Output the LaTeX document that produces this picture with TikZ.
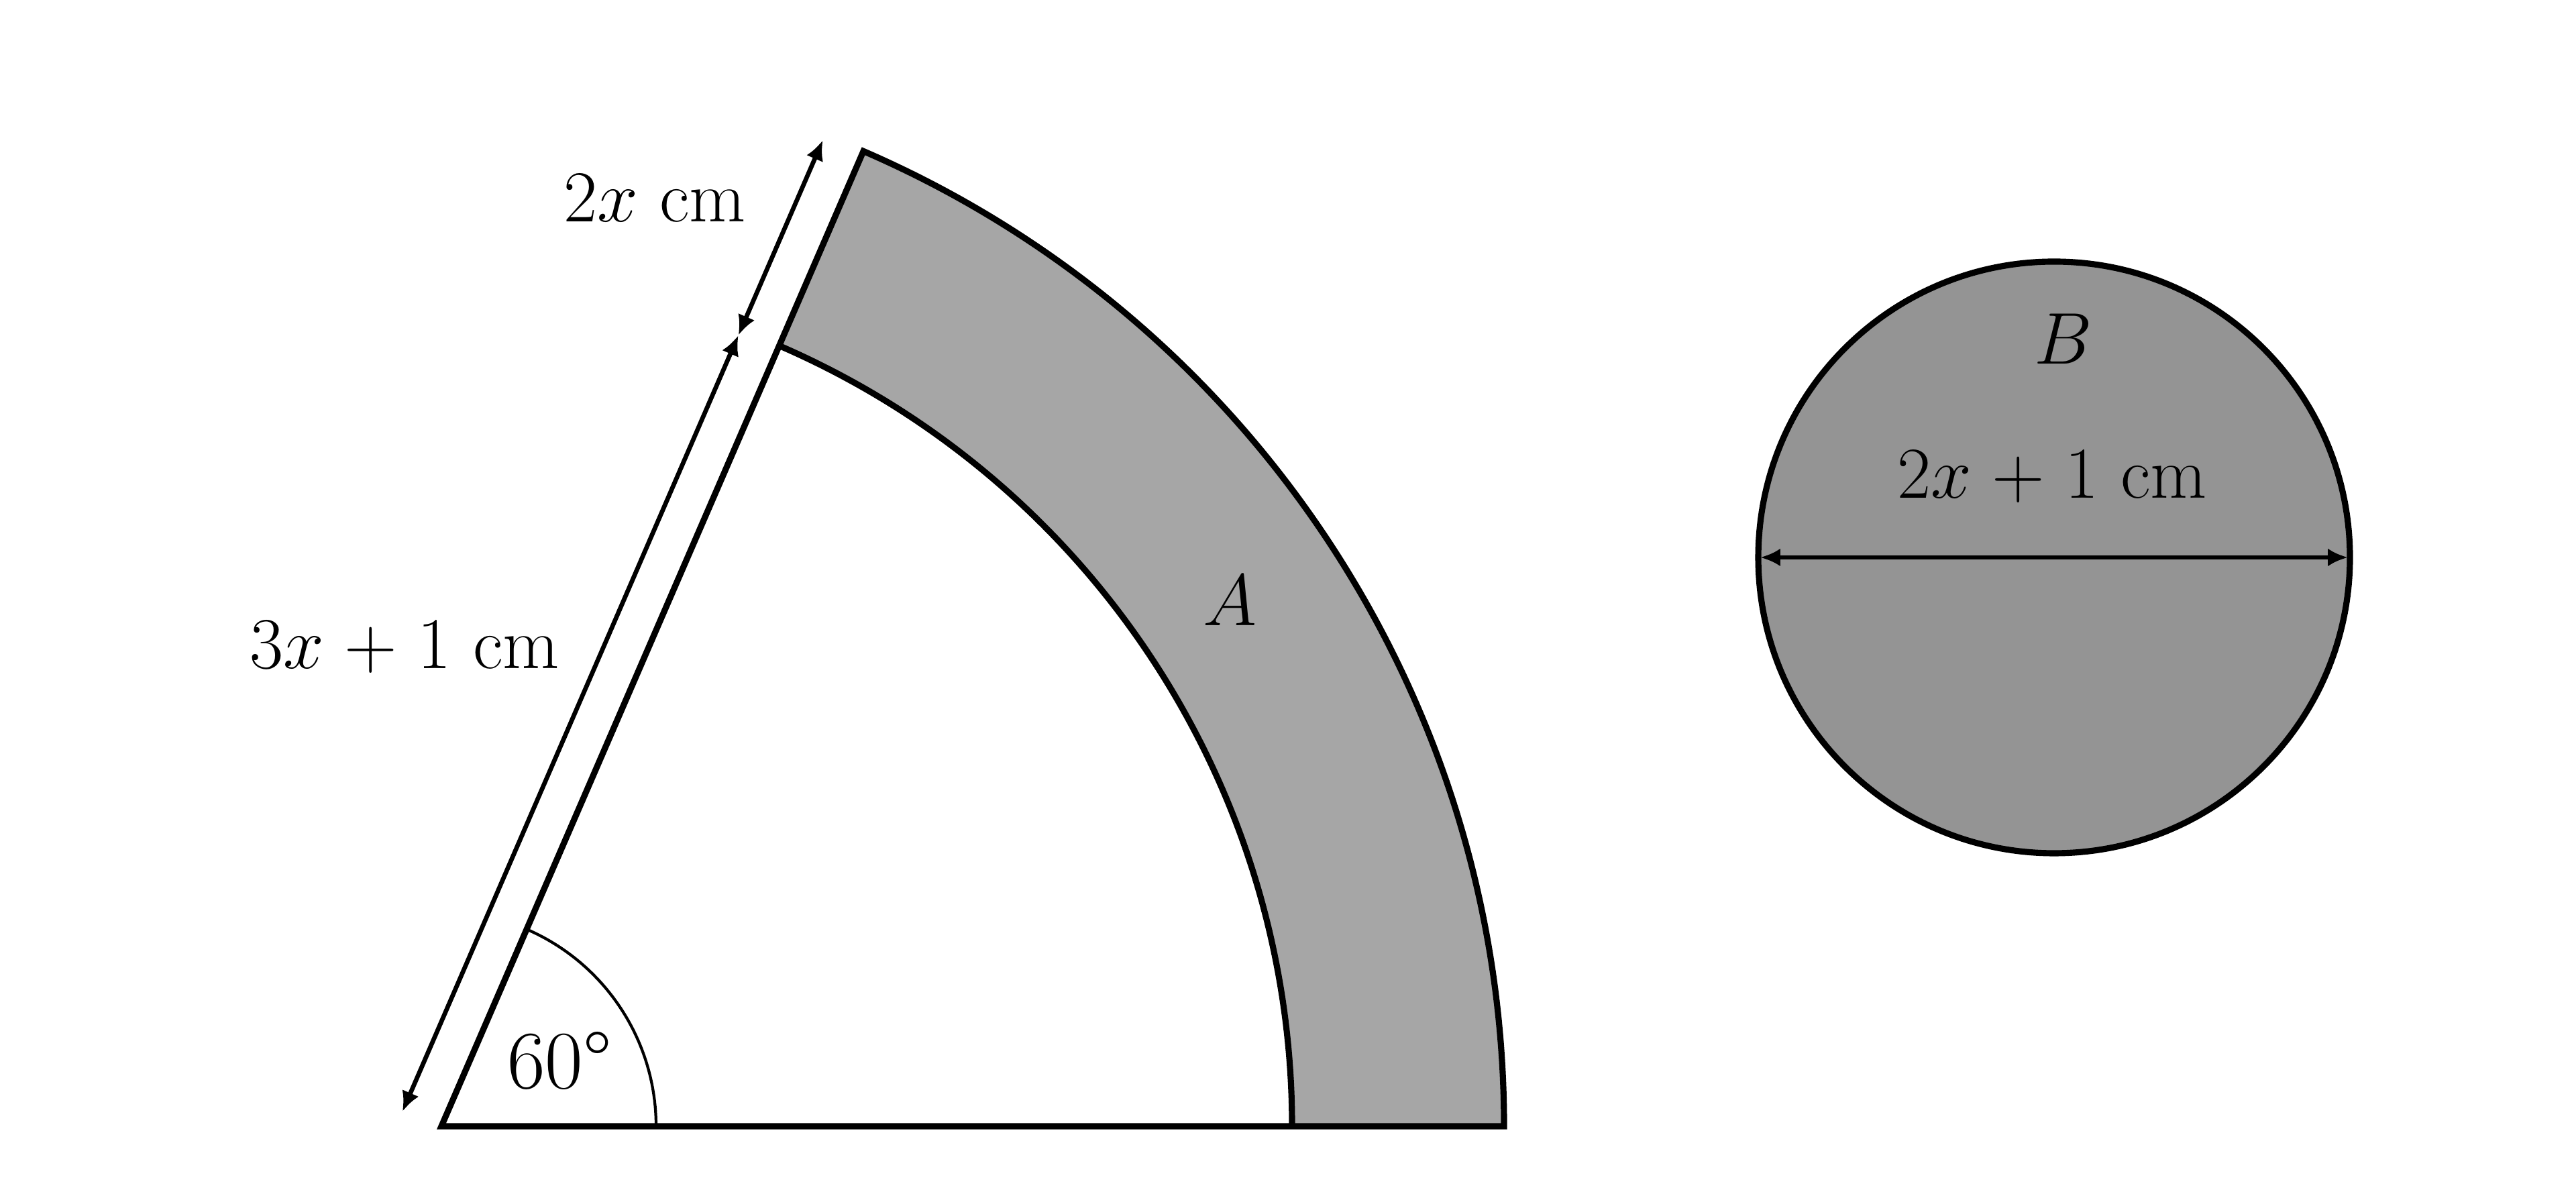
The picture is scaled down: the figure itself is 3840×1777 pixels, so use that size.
\RequirePackage{fix-cm}
\documentclass[tikz,border=0pt]{standalone}
\usetikzlibrary{arrows.meta,calc}
\definecolor{sectorgray}{RGB}{166,166,166}
\definecolor{circlegray}{RGB}{148,148,148}
\begin{document}
\medmuskip=5mu\relax
\begin{tikzpicture}[x=0.01cm,y=0.01cm,
  lbl/.style={font=\fontsize{31}{36}\selectfont, inner sep=0pt, anchor=base},
  biglbl/.style={lbl, font=\fontsize{35}{40}\selectfont},
  edge/.style={line width=2.6pt, line join=miter},
  thinarc/.style={line width=1.2pt},
  dim/.style={line width=1.9pt, {Latex[length=8.5pt,width=7.6pt]}-{Latex[length=8.5pt,width=7.6pt]}}]
\useasboundingbox (0,0) rectangle (3840,1777);
\def\ang{66.6}
\coordinate (V) at (658,98);
\coordinate (Ob) at ($(V)+(1584,0)$);
\coordinate (Ib) at ($(V)+(1268,0)$);
\coordinate (Ot) at ($(V)+(\ang:1584)$);
\coordinate (It) at ($(V)+(\ang:1268)$);
\coordinate (Ab) at ($(V)+(320,0)$);
% shaded ring sector A
\fill[sectorgray] (Ib) -- (Ob) arc[start angle=0,end angle=\ang,radius=1584] -- (It) arc[start angle=\ang,end angle=0,radius=1268] -- cycle;
\draw[edge] (V) -- (Ob) arc[start angle=0,end angle=\ang,radius=1584] -- cycle;
\draw[edge] (Ib) arc[start angle=0,end angle=\ang,radius=1268];
\draw[thinarc] (Ab) arc[start angle=0,end angle=\ang,radius=320];
% dimension arrows along the slanted edge
\coordinate (D0) at ($(V)+(\ang+90:62)+(\ang:-3)$);
\coordinate (D1) at ($(V)+(\ang+90:62)+(\ang:1258)$);
\coordinate (D2) at ($(V)+(\ang+90:62)+(\ang:1575)$);
\draw[dim] (D0) -- (D1);
\draw[dim] (D1) -- (D2);
% circle B
\coordinate (C) at (3062,946);
\draw[edge, fill=circlegray] (C) circle[radius=441];
\coordinate (CL) at ($(C)+(-438,0)$);
\coordinate (CR) at ($(C)+(438,0)$);
\draw[dim] (CL) -- (CR);
% labels
\node[lbl] (l2x) at (976,1446) {$2x$ cm};
\node[lbl] (l3x) at (603,780) {$3x+1$ cm};
\node[biglbl] (l60) at (834,154) {60°};
\node[lbl] (lA) at (1833,844) {$A$};
\node[lbl] (lB) at (3076,1234) {$B$};
\node[lbl] (ld) at (3059,1034) {$2x+1$ cm};
\end{tikzpicture}
\end{document}
